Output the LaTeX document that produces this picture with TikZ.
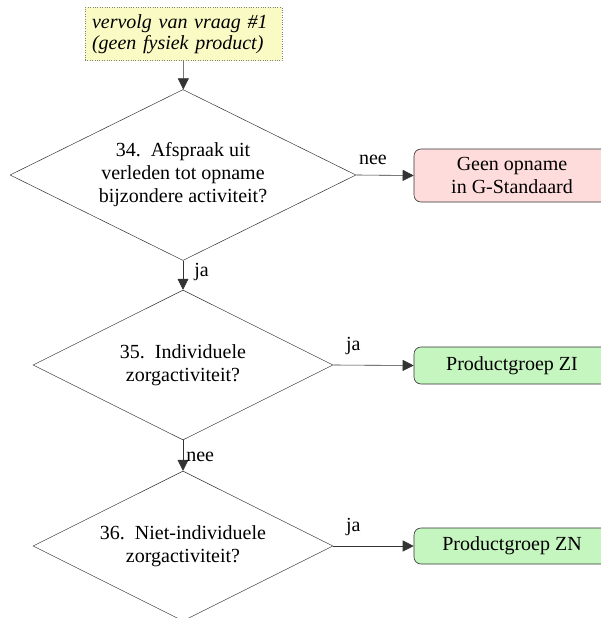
\documentclass[tikz,border=0pt]{standalone}
\usepackage{fontspec}
\setmainfont{Liberation Serif}
\usetikzlibrary{shapes.geometric,arrows.meta}
\definecolor{noteyellow}{HTML}{FAFAC4}
\definecolor{nopink}{HTML}{FFDCDC}
\definecolor{okgreen}{HTML}{C6F6C0}
\definecolor{linegray}{HTML}{333333}
\newcommand{\numgap}{\hspace{0.5em}}
\begin{document}
\begin{tikzpicture}[x=1pt,y=-1pt,
  every node/.style={font=\fontsize{20}{23}\selectfont},
  note/.style={draw=gray, dotted, fill=noteyellow, minimum width=197pt, minimum height=50pt, inner sep=7pt, align=left, text width=183pt, font=\fontsize{20}{21}\selectfont\itshape},
  question/.style={diamond, draw=linegray, line width=0.5pt, inner sep=0pt, aspect=2, align=center},
  result/.style={draw=linegray, line width=0.6pt, rounded corners=7pt, minimum width=196pt, inner sep=0pt, align=center},
  flow/.style={draw=linegray, line width=0.6pt, -{Triangle[length=11pt,width=11pt]}},
  lbl/.style={inner sep=1pt}]
\useasboundingbox (0,0) rectangle (600,618);

\node[note] (start) at (183.5,34) {vervolg van vraag \#1\\(geen fysiek product)};

\node[question, minimum width=346pt, minimum height=171pt] (q34) at (183,175)
  {34.\numgap Afspraak uit\\verleden tot opname\\bijzondere activiteit?};
\node[question, minimum width=300pt, minimum height=150pt] (q35) at (183,365)
  {35.\numgap Individuele\\zorgactiviteit?};
\node[question, minimum width=300pt, minimum height=150pt] (q36) at (183,546)
  {36.\numgap Niet-individuele\\zorgactiviteit?};

\node[result, fill=nopink, minimum height=53pt] (geen) at (512,175.5) {Geen opname\\in G-Standaard};
\node[result, fill=okgreen, minimum height=37pt] (zi) at (512,365.5) {Productgroep ZI};
\node[result, fill=okgreen, minimum height=36pt] (zn) at (512,546) {Productgroep ZN};

\draw[flow] (start) -- (q34);
\draw[flow] (q34.east) -- node[lbl, pos=0.29, above=9pt] {nee} (geen.west);
\draw[flow] (q34.south) -- node[lbl, pos=0.4, anchor=west, xshift=10pt] {ja} (q35.north);
\draw[flow] (q35.east) -- node[lbl, pos=0.25, above=9pt] {ja} (zi.west);
\draw[flow] (q35.south) -- node[lbl, pos=0.55, anchor=west, xshift=2pt] {nee} (q36.north);
\draw[flow] (q36.east) -- node[lbl, pos=0.25, above=9pt] {ja} (zn.west);
\end{tikzpicture}
\end{document}
